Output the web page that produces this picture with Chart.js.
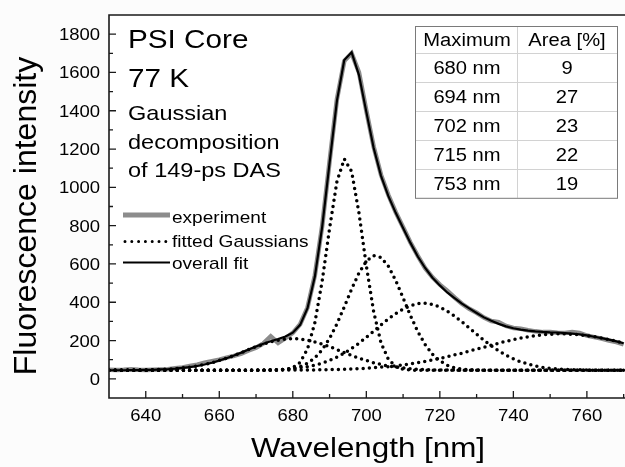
<!DOCTYPE html>
<html>
<head>
<meta charset="utf-8">
<script src="https://cdn.jsdelivr.net/npm/chart.js@4.4.1/dist/chart.umd.min.js"></script>
<style>
  html, body { margin: 0; padding: 0; overflow: hidden; background: #fcfcfc; }
  #wrap { width: 640px; height: 467px; }
</style>
</head>
<body>
<div id="wrap"><canvas id="chart" width="640" height="467"></canvas></div>
<script>
// Wavelength grid [nm]
const wavelengths = [630, 632, 634, 636, 638, 640, 642, 644, 646, 648, 650, 652, 654, 656, 658, 660, 662, 664, 666, 668,
    670, 672, 674, 676, 678, 680, 682, 684, 686, 688, 690, 692, 694, 696, 698, 700, 702, 704, 706, 708,
    710, 712, 714, 716, 718, 720, 722, 724, 726, 728, 730, 732, 734, 736, 738, 740, 742, 744, 746, 748,
    750, 752, 754, 756, 758, 760, 762, 764, 766, 768, 770];

// measured spectrum (grey)
const experiment = [48, 46, 47, 50, 47, 46, 48, 49, 50, 55, 60, 67, 74, 84, 92, 100, 111, 120, 132, 148,
    163, 185, 222, 188, 212, 240, 285, 372, 540, 800, 1135, 1460, 1660, 1700, 1600, 1400, 1212, 1065, 960, 870,
    792, 712, 642, 578, 530, 492, 460, 425, 392, 366, 345, 320, 302, 296, 276, 266, 262, 254, 248, 244,
    244, 241, 240, 244, 240, 226, 218, 210, 200, 192, 180];

// overall fit (black)
const overallFit = [45, 45, 45, 46, 46, 47, 47, 49, 50, 53, 57, 61, 67, 75, 84, 96, 108, 122, 137, 153,
    169, 183, 196, 208, 221, 241, 282, 369, 534, 795, 1128, 1452, 1665, 1705, 1586, 1394, 1205, 1060, 954, 867,
    788, 710, 639, 579, 528, 488, 451, 422, 393, 368, 344, 321, 303, 287, 274, 264, 257, 252, 248, 245,
    243, 242, 239, 236, 232, 227, 220, 213, 205, 196, 186];

// fitted Gaussians (dotted)
const gauss680 = [45, 45, 45, 46, 46, 46, 47, 49, 50, 53, 57, 61, 67, 75, 84, 96, 108, 122, 137, 153,
    168, 182, 193, 202, 208, 210, 208, 202, 193, 182, 168, 153, 137, 122, 108, 96, 84, 75, 67, 61,
    57, 53, 50, 49, 47, 46, 46, 46, 45, 45, 45, 45, 45, 45, 45, 45, 45, 45, 45, 45,
    45, 45, 45, 45, 45, 45, 45, 45, 45, 45, 45];
const gauss694 = [45, 45, 45, 45, 45, 45, 45, 45, 45, 45, 45, 45, 45, 45, 45, 45, 45, 45, 45, 45,
    45, 45, 45, 46, 48, 58, 86, 156, 293, 512, 785, 1030, 1148, 1083, 866, 591, 350, 188, 102, 64,
    50, 46, 45, 45, 45, 45, 45, 45, 45, 45, 45, 45, 45, 45, 45, 45, 45, 45, 45, 45,
    45, 45, 45, 45, 45, 45, 45, 45, 45, 45, 45];
const gauss702 = [45, 45, 45, 45, 45, 45, 45, 45, 45, 45, 45, 45, 45, 45, 45, 45, 45, 45, 45, 45,
    45, 45, 46, 47, 49, 54, 64, 81, 109, 152, 211, 287, 376, 469, 553, 615, 644, 634, 588, 513,
    423, 331, 247, 179, 128, 94, 71, 58, 51, 48, 46, 45, 45, 45, 45, 45, 45, 45, 45, 45,
    45, 45, 45, 45, 45, 45, 45, 45, 45, 45, 45];
const gauss715 = [45, 45, 45, 45, 45, 45, 45, 45, 45, 45, 45, 45, 45, 45, 45, 45, 45, 45, 45, 45,
    46, 46, 47, 48, 50, 53, 58, 64, 72, 82, 96, 113, 134, 159, 186, 217, 249, 282, 313, 341,
    365, 382, 393, 395, 389, 375, 354, 328, 298, 265, 233, 201, 172, 146, 123, 104, 89, 77, 67, 60,
    55, 52, 49, 48, 47, 46, 45, 45, 45, 45, 45];
const gauss753 = [45, 45, 45, 45, 45, 45, 45, 45, 45, 45, 45, 45, 45, 45, 45, 45, 45, 45, 45, 45,
    45, 45, 45, 45, 46, 46, 46, 46, 47, 47, 48, 49, 50, 52, 53, 55, 58, 61, 64, 68,
    73, 78, 84, 91, 99, 107, 115, 125, 134, 145, 155, 165, 176, 186, 196, 205, 213, 220, 226, 230,
    233, 235, 235, 233, 230, 226, 220, 213, 205, 196, 186];

// axis ticks
const xTicks = [640, 660, 680, 700, 720, 740, 760];
const xMinor = [650, 670, 690, 710, 730, 750, 770];
const yTicks = [0, 200, 400, 600, 800, 1000, 1200, 1400, 1600, 1800];
const yMinor = [100, 300, 500, 700, 900, 1100, 1300, 1500, 1700];

// table in the corner
const tableHead = ['Maximum', 'Area [%]'];
const tableMax = ['680 nm', '694 nm', '702 nm', '715 nm', '753 nm'];
const tableArea = ['9', '27', '23', '22', '19'];

const FONT = '"Liberation Sans", Arial, sans-serif';
const SX = 1.12; // the original picture is a bit stretched sideways

function pts(ys) {
    return wavelengths.map((x, i) => ({ x: x, y: ys[i] }));
}

function txt(ctx, s, x, y, size, align) {
    ctx.save();
    ctx.font = size + 'px ' + FONT;
    ctx.textAlign = align || 'left';
    ctx.textBaseline = 'alphabetic';
    ctx.fillStyle = '#000';
    ctx.translate(x, y);
    ctx.scale(SX, 1);
    ctx.fillText(s, 0, 0);
    ctx.restore();
}

const dotted = {
    borderColor: '#000',
    borderWidth: 3.5,
    borderDash: [0, 6.2],
    borderCapStyle: 'round',
    pointRadius: 0,
    tension: 0,
    fill: false
};

const decor = {
    id: 'decor',
    beforeDatasetsDraw(chart) {
        const { ctx, chartArea: a } = chart;
        ctx.save();
        ctx.fillStyle = '#fff';
        ctx.fillRect(a.left, a.top, a.right - a.left, a.bottom - a.top);
        ctx.restore();
    },
    afterDraw(chart) {
        const { ctx, chartArea: a } = chart;
        const xs = chart.scales.x, ys = chart.scales.y;

        // frame
        ctx.save();
        ctx.strokeStyle = '#1a1a1a';
        ctx.lineWidth = 1.6;
        ctx.beginPath();
        ctx.moveTo(a.right, a.top);
        ctx.lineTo(a.left, a.top);
        ctx.lineTo(a.left, a.bottom);
        ctx.lineTo(a.right, a.bottom);
        ctx.stroke();

        // inward ticks
        ctx.lineWidth = 1.3;
        ctx.beginPath();
        xTicks.forEach(v => { const p = xs.getPixelForValue(v); ctx.moveTo(p, a.bottom); ctx.lineTo(p, a.bottom - 7); });
        xMinor.forEach(v => { const p = xs.getPixelForValue(v); ctx.moveTo(p, a.bottom); ctx.lineTo(p, a.bottom - 4); });
        yTicks.forEach(v => { const p = ys.getPixelForValue(v); ctx.moveTo(a.left, p); ctx.lineTo(a.left + 7, p); });
        yMinor.forEach(v => { const p = ys.getPixelForValue(v); ctx.moveTo(a.left, p); ctx.lineTo(a.left + 4, p); });
        ctx.stroke();
        ctx.restore();

        // tick labels
        xTicks.forEach(v => txt(ctx, String(v), xs.getPixelForValue(v), a.bottom + 23, 16.5, 'center'));
        yTicks.forEach(v => txt(ctx, String(v), a.left - 9, ys.getPixelForValue(v) + 6, 16.5, 'right'));

        // axis titles
        txt(ctx, 'Wavelength [nm]', 368, 457, 28, 'center');
        ctx.save();
        ctx.translate(27, 216);
        ctx.rotate(-Math.PI / 2);
        ctx.font = '32px ' + FONT;
        ctx.textAlign = 'center';
        ctx.textBaseline = 'middle';
        ctx.fillStyle = '#000';
        ctx.fillText('Fluorescence intensity', 0, 0);
        ctx.restore();

        // annotation
        txt(ctx, 'PSI Core', 128, 48, 26.5);
        txt(ctx, '77 K', 128, 87, 26.5);
        txt(ctx, 'Gaussian', 128, 120, 21);
        txt(ctx, 'decomposition', 128, 148.5, 21);
        txt(ctx, 'of 149-ps DAS', 128, 177, 21);

        // legend
        ctx.save();
        ctx.lineCap = 'butt';
        ctx.strokeStyle = '#8c8c8c';
        ctx.lineWidth = 5;
        ctx.beginPath(); ctx.moveTo(123, 215); ctx.lineTo(170, 215); ctx.stroke();
        ctx.strokeStyle = '#000';
        ctx.lineWidth = 3;
        ctx.lineCap = 'round';
        ctx.setLineDash([0, 6.8]);
        ctx.beginPath(); ctx.moveTo(125, 241.5); ctx.lineTo(169, 241.5); ctx.stroke();
        ctx.setLineDash([]);
        ctx.lineCap = 'butt';
        ctx.lineWidth = 2;
        ctx.beginPath(); ctx.moveTo(123, 262.5); ctx.lineTo(170, 262.5); ctx.stroke();
        ctx.restore();
        txt(ctx, 'experiment', 172, 223, 17);
        txt(ctx, 'fitted Gaussians', 172, 246.5, 17);
        txt(ctx, 'overall fit', 172, 268.5, 17);

        // table
        const tx0 = 415, tx1 = 617, tmid = 517, ty0 = 26, hh = 27.3, rh = 28.9;
        const rows = tableMax.length;
        const ty1 = ty0 + hh + rows * rh;
        ctx.save();
        ctx.fillStyle = '#fff';
        ctx.fillRect(tx0, ty0, tx1 - tx0, ty1 - ty0);
        ctx.strokeStyle = '#d2d2d2';
        ctx.lineWidth = 1;
        ctx.beginPath();
        for (let i = 0; i < rows; i++) {
            const yy = Math.round(ty0 + hh + i * rh) + 0.5;
            ctx.moveTo(tx0, yy); ctx.lineTo(tx1, yy);
        }
        ctx.moveTo(tmid + 0.5, ty0); ctx.lineTo(tmid + 0.5, ty1);
        ctx.stroke();
        ctx.strokeStyle = '#7a7a7a';
        ctx.strokeRect(tx0 + 0.5, ty0 + 0.5, tx1 - tx0, ty1 - ty0);
        ctx.restore();
        txt(ctx, tableHead[0], 467, ty0 + hh / 2 + 6.5, 18, 'center');
        txt(ctx, tableHead[1], 567, ty0 + hh / 2 + 6.5, 18, 'center');
        for (let i = 0; i < rows; i++) {
            const cy = ty0 + hh + i * rh + rh / 2 + 6.5;
            txt(ctx, tableMax[i], 467, cy, 18, 'center');
            txt(ctx, tableArea[i], 567, cy, 18, 'center');
        }
    }
};

new Chart(document.getElementById('chart').getContext('2d'), {
    type: 'line',
    data: {
        datasets: [
            { label: 'overall fit', data: pts(overallFit), borderColor: '#000', borderWidth: 2.2, pointRadius: 0, tension: 0, fill: false },
            Object.assign({ label: '680 nm', data: pts(gauss680) }, dotted),
            Object.assign({ label: '694 nm', data: pts(gauss694) }, dotted),
            Object.assign({ label: '702 nm', data: pts(gauss702) }, dotted),
            Object.assign({ label: '715 nm', data: pts(gauss715) }, dotted),
            Object.assign({ label: '753 nm', data: pts(gauss753) }, dotted),
            { label: 'experiment', data: pts(experiment), borderColor: '#8c8c8c', borderWidth: 4.5, pointRadius: 0, tension: 0, fill: false }
        ]
    },
    options: {
        responsive: false,
        devicePixelRatio: 1,
        animation: false,
        layout: { padding: { top: 15, right: 9, left: 0, bottom: 0 } },
        plugins: { legend: { display: false }, tooltip: { enabled: false } },
        scales: {
            x: {
                type: 'linear', min: 630, max: 772,
                grid: { display: false }, border: { display: false },
                ticks: { display: false },
                afterFit: s => { s.height = 69; }
            },
            y: {
                min: -100, max: 1900,
                grid: { display: false }, border: { display: false },
                ticks: { display: false },
                afterFit: s => { s.width = 109; }
            }
        }
    },
    plugins: [decor]
});
</script>
</body>
</html>
